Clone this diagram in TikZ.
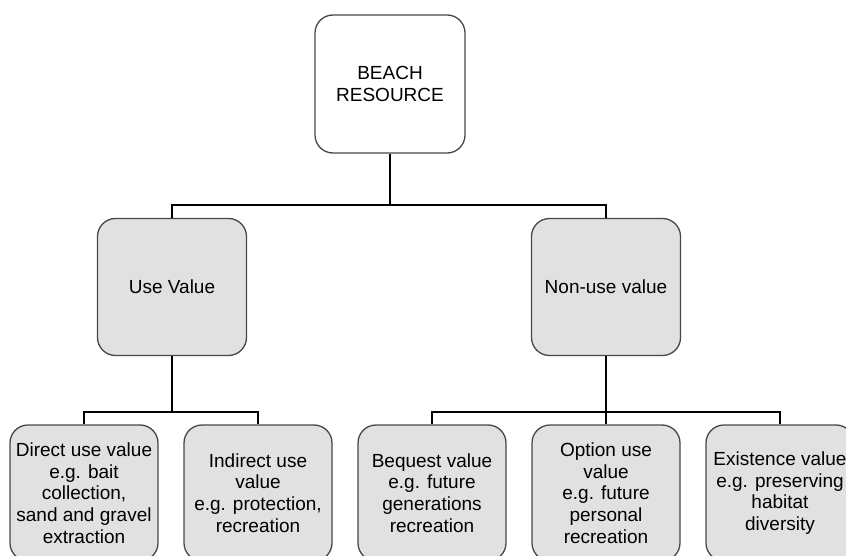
\documentclass[tikz,border=0pt]{standalone}
\usepackage{fontspec}
\setmainfont{Liberation Sans}
\definecolor{boxfill}{HTML}{E1E1E1}
\definecolor{boxline}{HTML}{474747}
\tikzset{
  box/.style={draw=boxline, line width=1.3pt, rounded corners=18pt,
    minimum width=149pt, minimum height=137pt, inner sep=0pt,
    align=center, font=\fontsize{19}{21.7}\selectfont},
  topbox/.style={box, fill=white, minimum width=150pt, minimum height=138pt},
  graybox/.style={box, fill=boxfill},
  smallbox/.style={box, fill=boxfill, minimum width=148pt, minimum height=136pt},
  link/.style={draw=black, line width=2pt}
}
\begin{document}
\begin{tikzpicture}[x=1pt,y=-1pt]
\clip (0,0) rectangle (846,556);
\fill[white] (0,0) rectangle (846,556);
\node[topbox] (top) at (390,84) {BEACH\\RESOURCE};
\node[graybox] (use) at (172,287) {Use Value};
\node[graybox] (non) at (606,287) {Non-use value};
\node[smallbox] (b1) at (84,493) {Direct use value\\e.g. bait\\collection,\\sand and gravel\\extraction};
\node[smallbox] (b2) at (258,493) {Indirect use\\value\\e.g. protection,\\recreation};
\node[smallbox] (b3) at (432,493) {Bequest value\\e.g. future\\generations\\recreation};
\node[smallbox] (b4) at (606,493) {Option use\\value\\e.g. future\\personal\\recreation};
\node[smallbox] (b5) at (780,493) {Existence value\\e.g. preserving\\habitat\\diversity};
\coordinate (j1) at (390,205);
\coordinate (j2) at (172,412);
\coordinate (j3) at (606,412);
\draw[link] (top.south) -- (j1);
\draw[link] (j1) -| (use.north);
\draw[link] (j1) -| (non.north);
\draw[link] (use.south) -- (j2);
\draw[link] (j2) -| (b1.north);
\draw[link] (j2) -| (b2.north);
\draw[link] (non.south) -- (j3);
\draw[link] (j3) -| (b3.north);
\draw[link] (j3) -| (b4.north);
\draw[link] (j3) -| (b5.north);
\end{tikzpicture}
\end{document}
